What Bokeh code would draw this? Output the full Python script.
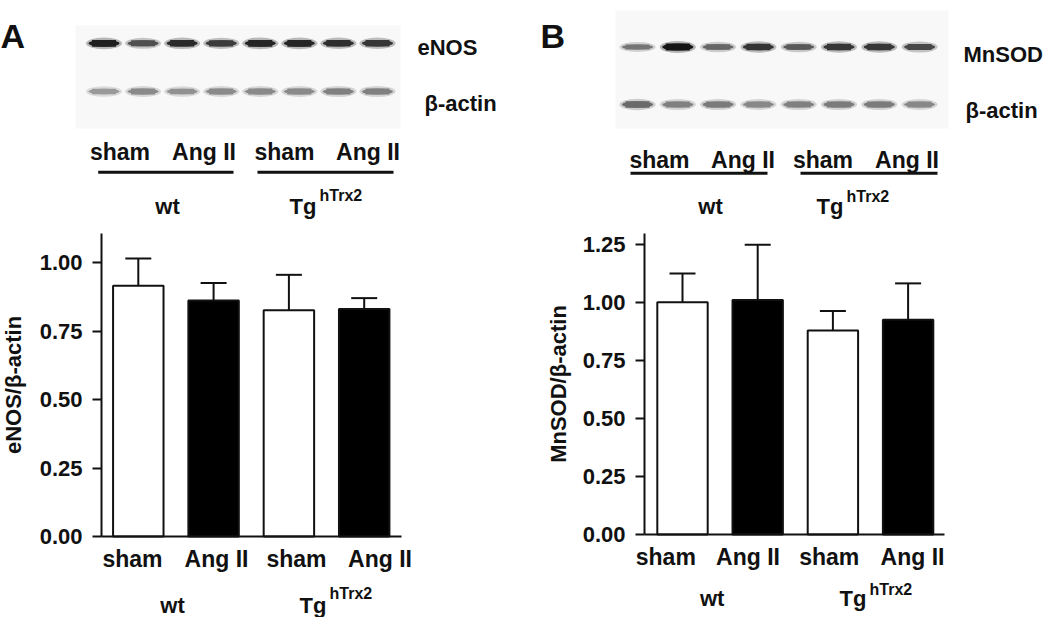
from bokeh.plotting import figure
from bokeh.models import (Range1d, FixedTicker, NumeralTickFormatter, Label,
                          Whisker, TeeHead, ColumnDataSource)
from bokeh.layouts import row, column
from bokeh.embed import file_html
from bokeh.resources import INLINE

FONT = "Liberation Sans"
INK = "#111111"

# ------------------------------------------------------------------ data
treatments = ["sham", "Ang II", "sham", "Ang II"]
genotypes = ["wt", "Tg"]
genotype_sup = ["", "hTrx2"]
bar_index = [1, 2, 3, 4]
bar_fill = ["white", "black", "white", "black"]

enos_mean = [0.915, 0.861, 0.826, 0.830]
enos_sem = [0.100, 0.064, 0.129, 0.040]
mnsod_mean = [1.000, 1.009, 0.878, 0.924]
mnsod_sem = [0.124, 0.238, 0.084, 0.157]

enos_ticks = [0.0, 0.25, 0.50, 0.75, 1.00]
mnsod_ticks = [0.0, 0.25, 0.50, 0.75, 1.00, 1.25]

# western blot lanes and band densities (0 = blank, 1 = black)
lanes = [1, 2, 3, 4, 5, 6, 7, 8]
enos_band = [0.95, 0.72, 0.90, 0.82, 0.92, 0.92, 0.88, 0.84]
enos_actin_band = [0.38, 0.45, 0.42, 0.45, 0.45, 0.45, 0.50, 0.50]
mnsod_band = [0.55, 1.00, 0.62, 0.85, 0.68, 0.84, 0.84, 0.76]
mnsod_actin_band = [0.60, 0.50, 0.52, 0.46, 0.50, 0.52, 0.52, 0.46]

TOP_H = 220
BOT_H = 397
COL_W = 525


def gray(d):
    g = int(round(235 - 215 * d))
    return "#%02x%02x%02x" % (g, g, g)


def txt(x, y, text, size, align="left", style="bold"):
    return Label(x=x, y=y, text=text, text_font=FONT, text_font_style=style,
                 text_font_size=size, text_color=INK, text_align=align,
                 text_baseline="alphabetic")


# ------------------------------------------------------------------ blots
def blot_panel(letter, target, bands, actin, L):
    W, H = COL_W, TOP_H
    lane = lambda px: 1 + (px - L["lane1_px"]) / L["step"]
    p = figure(width=W, height=H, output_backend="svg", toolbar_location=None,
               x_range=Range1d(lane(L["fig_left"]), lane(L["fig_left"] + W)),
               y_range=Range1d(H, 0), min_border=0,
               outline_line_color=None, x_axis_location=None,
               y_axis_location=None, background_fill_color="white")
    p.xgrid.grid_line_color = None
    p.ygrid.grid_line_color = None

    bx0, bx1, by0, by1 = L["bg"]
    p.quad(left=[lane(bx0)], right=[lane(bx1)], top=[by0], bottom=[by1],
           fill_color="#f8f8f8", line_color=None)

    for dens, ry, base_h in ((bands, L["band_y"], 3.0), (actin, L["actin_y"], 4.0)):
        src = ColumnDataSource(dict(
            x=lanes, y=[ry] * len(lanes),
            c=[gray(d) for d in dens],
            h=[base_h + 4 * d for d in dens],
            hh=[base_h + 4 * d + 5 for d in dens]))
        p.ellipse(x="x", y="y", width=36, height="hh", width_units="screen",
                  height_units="screen", fill_color="c", fill_alpha=0.3,
                  line_color=None, source=src)
        p.ellipse(x="x", y="y", width=31, height="h", width_units="screen",
                  height_units="screen", fill_color="c", line_color=None,
                  source=src)
        p.rect(x="x", y="y", width=24, height="h", width_units="screen",
               height_units="screen", fill_color="c", line_color=None,
               source=src)

    p.add_layout(txt(lane(L["letter_x"]), 35, letter, "34px"))
    p.add_layout(txt(lane(L["target_x"]), L["target_base"], target, "22px"))
    p.add_layout(txt(lane(L["actin_x"]), L["actin_base"], "β-actin", "22px"))
    for cx, t in zip(L["treat_x"], treatments):
        p.add_layout(txt(lane(cx), L["treat_base"], t, "23px", "center"))
    for x0, x1 in L["underline"]:
        p.segment(x0=[lane(x0)], x1=[lane(x1)], y0=[L["underline_y"]],
                  y1=[L["underline_y"]], line_color=INK, line_width=3)
    p.add_layout(txt(lane(L["wt_x"]), L["grp_base"], genotypes[0], "22px", "center"))
    p.add_layout(txt(lane(L["tg_x"]), L["grp_base"], genotypes[1], "22px"))
    p.add_layout(txt(lane(L["sup_x"]), L["sup_base"], genotype_sup[1], "16px"))
    return p


blotA_layout = dict(fig_left=0, lane1_px=103.5, step=39.07, band_y=42.8, actin_y=91,
                    bg=(75, 400, 25, 128), letter_x=0, target_x=417, target_base=47,
                    actin_x=424, actin_base=103, treat_x=[119.5, 203.5, 284, 367.5],
                    treat_base=151, underline=[(97.7, 233), (257, 393)],
                    underline_y=171.7, wt_x=167, tg_x=289, sup_x=319,
                    grp_base=206, sup_base=195)
blotB_layout = dict(fig_left=525, lane1_px=637, step=40.3, band_y=46.5, actin_y=104,
                    bg=(615, 948, 10, 128), letter_x=540, target_x=963,
                    target_base=53.5, actin_x=965, actin_base=110,
                    treat_x=[659, 742.5, 822.5, 906.5], treat_base=159,
                    underline=[(630, 767), (800, 937)], underline_y=172.7,
                    wt_x=710, tg_x=816, sup_x=846, grp_base=206, sup_base=196)


# ------------------------------------------------------------------ bars
def bar_panel(means, sems, ticks, ylabel, L):
    W, H = COL_W, BOT_H
    fig_top = TOP_H
    fig_bottom = TOP_H + BOT_H
    step, ppu, base = L["step"], L["ppu"], L["base"]
    xu = lambda px: 1 + (px - L["bar1_px"]) / step
    yu = lambda py: (base - py) / ppu
    ytop = yu(L["frame_top"])
    p = figure(width=W, height=H, output_backend="svg", toolbar_location=None,
               x_range=Range1d(xu(L["fig_left"]), xu(L["fig_left"] + W)),
               y_range=Range1d(yu(fig_bottom), yu(fig_top)),
               min_border=0, outline_line_color=None,
               background_fill_color="white")
    p.xgrid.grid_line_color = None
    p.ygrid.grid_line_color = None

    src = ColumnDataSource(dict(x=bar_index, top=means, fill=bar_fill,
                                hi=[m + s for m, s in zip(means, sems)]))
    p.vbar(x="x", top="top", width=0.67, fill_color="fill", line_color=INK,
           line_width=2, source=src)
    p.add_layout(Whisker(source=src, base="x", lower="top", upper="hi",
                         dimension="height", line_color=INK, line_width=2,
                         upper_head=TeeHead(size=26, line_color=INK, line_width=2),
                         lower_head=None))

    # y axis, drawn at the left end of the value axis
    ya = p.yaxis[0]
    ya.fixed_location = xu(L["frame_left"])
    ya.bounds = (0, ytop)
    ya.ticker = FixedTicker(ticks=ticks)
    ya.formatter = NumeralTickFormatter(format="0.00")
    ya.minor_tick_line_color = None
    ya.major_tick_in = 0
    ya.major_tick_out = 9
    ya.major_tick_line_width = 2
    ya.major_tick_line_color = INK
    ya.axis_line_width = 2
    ya.axis_line_color = INK
    ya.major_label_standoff = 10
    ya.major_label_text_font = FONT
    ya.major_label_text_font_style = "bold"
    ya.major_label_text_font_size = "22px"
    ya.major_label_text_color = INK
    ya.axis_label = ylabel
    ya.axis_label_text_font = FONT
    ya.axis_label_text_font_style = "bold"
    ya.axis_label_text_font_size = "22px"
    ya.axis_label_text_color = INK
    ya.axis_label_standoff = L["ylabel_standoff"]

    # x axis, drawn at value 0
    label_pos = [round(xu(px), 3) for px in L["label_px"]]
    xa = p.xaxis[0]
    xa.fixed_location = 0
    xa.bounds = (xu(L["frame_left"]), xu(L["frame_right"]))
    xa.ticker = FixedTicker(ticks=label_pos)
    xa.major_label_overrides = {t: lab for t, lab in zip(label_pos, treatments)}
    xa.minor_tick_line_color = None
    xa.major_tick_line_color = None
    xa.major_tick_in = 0
    xa.major_tick_out = 0
    xa.axis_line_width = 2
    xa.axis_line_color = INK
    xa.major_label_standoff = 9
    xa.major_label_text_font = FONT
    xa.major_label_text_font_style = "bold"
    xa.major_label_text_font_size = "23px"
    xa.major_label_text_color = INK

    p.add_layout(txt(xu(L["wt_x"]), yu(L["grp_base"]), genotypes[0], "22px", "center"))
    p.add_layout(txt(xu(L["tg_x"]), yu(L["grp_base"]), genotypes[1], "22px"))
    p.add_layout(txt(xu(L["sup_x"]), yu(L["sup_base"]), genotype_sup[1], "16px"))
    return p


barA_layout = dict(fig_left=0, frame_left=101, frame_right=401, frame_top=233,
                   base=536, bar1_px=137.8, step=75.3, ppu=274.0,
                   label_px=[132, 216, 296, 379.5], wt_x=172, tg_x=299,
                   sup_x=329, grp_base=605, sup_base=593, ylabel_standoff=11)
barB_layout = dict(fig_left=525, frame_left=644, frame_right=944, frame_top=233,
                   base=534, bar1_px=682, step=75.2, ppu=232.3,
                   label_px=[665.3, 747.5, 828.8, 912], wt_x=711.7, tg_x=839,
                   sup_x=869, grp_base=598, sup_base=589, ylabel_standoff=9)

blotA = blot_panel("A", "eNOS", enos_band, enos_actin_band, blotA_layout)
blotB = blot_panel("B", "MnSOD", mnsod_band, mnsod_actin_band, blotB_layout)
barA = bar_panel(enos_mean, enos_sem, enos_ticks, "eNOS/β-actin", barA_layout)
barB = bar_panel(mnsod_mean, mnsod_sem, mnsod_ticks, "MnSOD/β-actin", barB_layout)

layout = column(row(blotA, blotB, spacing=0), row(barA, barB, spacing=0), spacing=0)

with open("out.html", "w") as f:
    f.write(file_html(layout, INLINE))
